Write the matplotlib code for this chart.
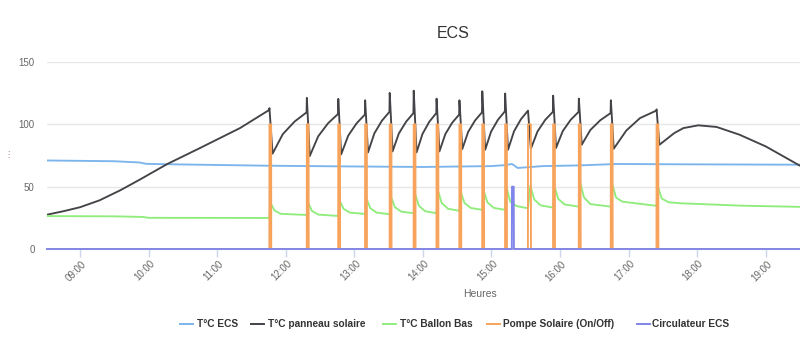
import matplotlib
matplotlib.use("Agg")
import matplotlib.pyplot as plt
import matplotlib.dates as mdates
from matplotlib.lines import Line2D
from matplotlib.transforms import ScaledTranslation
import pandas as pd

plt.rcParams['font.family'] = ['Liberation Sans', 'DejaVu Sans']

DAY = "2024-06-01 "

title = "ECS"
x_title = "Heures"
series_names = ["T°C ECS", "T°C panneau solaire", "T°C Ballon Bas",
                "Pompe Solaire (On/Off)", "Circulateur ECS"]
colors = ["#7cb5ec", "#434348", "#90ed7d", "#f7a35c", "#8085e9"]

ecs_t = ["08:31:00", "09:30:00", "09:52:00", "09:58:00", "10:30:00", "11:45:00",
         "13:00:00", "14:00:00", "15:00:00", "15:12:00", "15:18:00", "15:23:00",
         "15:45:00", "16:15:00", "16:50:00", "17:30:00", "19:30:00"]
ecs_v = [71.0, 70.4, 69.4, 68.3, 67.8, 66.8, 66.2, 65.8, 66.5, 67.3, 68.2, 65.0,
         66.5, 67.0, 68.2, 68.0, 67.6]

panel_t = ["08:31:00", "08:45:00", "09:00:00", "09:17:00", "09:35:00", "09:52:00",
           "10:16:00", "10:45:00", "11:20:00", "11:45:30", "11:45:45",
           "11:48:30", "11:57:25", "12:07:50", "12:18:15", "12:18:30",
           "12:21:00", "12:28:25", "12:37:05", "12:45:45", "12:46:00",
           "12:48:30", "12:54:40", "13:02:00", "13:09:15", "13:09:30",
           "13:12:00", "13:17:35", "13:24:10", "13:30:45", "13:31:00",
           "13:33:30", "13:39:00", "13:45:25", "13:51:45", "13:52:00",
           "13:54:30", "13:59:40", "14:05:40", "14:11:45", "14:12:00",
           "14:14:30", "14:19:40", "14:25:40", "14:31:45", "14:32:00",
           "14:34:30", "14:39:40", "14:45:40", "14:51:45", "14:52:00",
           "14:54:30", "14:59:40", "15:05:40", "15:11:45", "15:12:00",
           "15:14:30", "15:19:45", "15:25:50", "15:32:00",
           "15:34:30", "15:40:20", "15:47:00", "15:53:45", "15:54:00",
           "15:56:30", "16:02:25", "16:09:20", "16:16:15", "16:16:30",
           "16:19:00", "16:26:35", "16:35:25", "16:44:15", "16:44:30",
           "16:47:00", "16:58:00", "17:10:00", "17:24:15", "17:24:30",
           "17:27:00", "17:40:00", "17:48:00", "18:01:00", "18:17:00",
           "18:37:00", "19:00:00", "19:18:00", "19:30:00"]
panel_v = [27.5, 30.2, 33.5, 39.0, 47.0, 55.5,
           68.0, 81.0, 97.0, 111.5, 113.0,
           76.5, 92.1, 102.3, 109.6, 121.2,
           74.5, 90.4, 100.9, 108.3, 120.4,
           75.9, 90.9, 100.8, 107.8, 119.3,
           77.5, 92.8, 102.9, 110.0, 125.2,
           78.3, 92.7, 102.2, 109.0, 127.0,
           77.5, 92.3, 102.1, 109.0, 120.6,
           78.3, 92.2, 101.3, 107.8, 119.3,
           80.2, 94.0, 103.1, 109.6, 126.5,
           79.6, 94.1, 103.6, 110.4, 124.7,
           79.6, 94.4, 104.1, 111.0,
           80.4, 94.3, 103.5, 110.0, 123.0,
           81.0, 94.6, 103.6, 110.0, 120.6,
           83.6, 95.5, 103.4, 109.0, 119.3,
           80.4, 95.0, 105.0, 111.0, 112.0,
           83.6, 93.0, 97.0, 99.2, 97.9,
           91.7, 82.3, 73.0, 66.8]

tank_t = ["08:31:00", "09:30:00", "09:55:00", "10:00:00", "11:45:45",
          "11:46:45", "11:50:15", "11:55:45", "12:18:30",
          "12:19:30", "12:23:00", "12:28:30", "12:46:00",
          "12:47:00", "12:50:30", "12:56:00", "13:09:30",
          "13:10:30", "13:14:00", "13:19:30", "13:31:00",
          "13:32:00", "13:35:30", "13:41:00", "13:52:00",
          "13:53:00", "13:56:30", "14:02:00", "14:12:00",
          "14:13:00", "14:16:30", "14:22:00", "14:32:00",
          "14:33:00", "14:36:30", "14:42:00", "14:52:00",
          "14:53:00", "14:56:30", "15:02:00", "15:12:00",
          "15:13:00", "15:16:30", "15:22:00", "15:32:00",
          "15:34:00", "15:37:30", "15:43:00", "15:54:00",
          "15:55:00", "15:58:30", "16:04:00", "16:16:30",
          "16:17:30", "16:21:00", "16:26:30", "16:44:30",
          "16:45:30", "16:49:00", "16:54:30", "17:24:30",
          "17:25:30", "17:29:00", "17:35:00", "17:45:00", "18:37:00", "19:30:00"]
tank_v = [26.4, 26.2, 25.7, 25.0, 24.9,
          36.8, 30.8, 28.2, 27.3,
          37.2, 30.5, 27.6, 26.5,
          39.4, 32.3, 29.2, 28.1,
          40.8, 32.7, 29.2, 27.9,
          42.0, 33.6, 30.0, 28.7,
          44.8, 34.7, 30.3, 28.7,
          47.5, 36.9, 32.3, 30.6,
          46.1, 36.8, 32.9, 31.4,
          47.5, 37.4, 33.0, 31.4,
          50.1, 38.0, 34.4, 32.7,
          50.7, 39.7, 35.0, 33.2,
          50.7, 40.2, 35.7, 34.0,
          54.0, 41.4, 36.0, 34.0,
          52.8, 41.3, 38.0, 34.6,
          50.7, 40.5, 37.5, 36.7, 34.8, 33.8]

pump_t = ["08:31:00",
          "11:45:40", "11:45:45", "11:47:15", "11:47:20",
          "12:18:25", "12:18:30", "12:20:00", "12:20:05",
          "12:45:55", "12:46:00", "12:47:30", "12:47:35",
          "13:09:25", "13:09:30", "13:11:00", "13:11:05",
          "13:30:55", "13:31:00", "13:32:30", "13:32:35",
          "13:51:55", "13:52:00", "13:53:30", "13:53:35",
          "14:11:55", "14:12:00", "14:13:30", "14:13:35",
          "14:31:55", "14:32:00", "14:33:30", "14:33:35",
          "14:51:55", "14:52:00", "14:53:30", "14:53:35",
          "15:11:55", "15:12:00", "15:13:30", "15:13:35",
          "15:31:55", "15:32:00", "15:34:30", "15:34:35",
          "15:53:55", "15:54:00", "15:55:30", "15:55:35",
          "16:16:25", "16:16:30", "16:18:00", "16:18:05",
          "16:44:25", "16:44:30", "16:46:00", "16:46:05",
          "17:24:25", "17:24:30", "17:26:00", "17:26:05",
          "19:30:00"]
pump_v = [0] + [0, 100, 100, 0] * 15 + [0]

circ_t = ["08:31:00", "15:17:50", "15:18:00", "15:19:30", "15:19:40", "19:30:00"]
circ_v = [0, 0, 50, 50, 0, 0]

y_ticks = [0, 50, 100, 150]


def to_dt(ts):
    return pd.to_datetime([DAY + t for t in ts])


W, H = 800, 354
fig = plt.figure(figsize=(W / 100, H / 100), dpi=100)
ax = fig.add_axes([47 / W, 1 - 249 / H, (800 - 47) / W, (249 - 62) / H])

lw = 1.35
ax.plot(to_dt(ecs_t), ecs_v, color=colors[0], lw=lw, zorder=3)
ax.plot(to_dt(panel_t), panel_v, color=colors[1], lw=lw, zorder=3)
ax.plot(to_dt(tank_t), tank_v, color=colors[2], lw=lw, zorder=3)
ax.plot(to_dt(pump_t), pump_v, color=colors[3], lw=lw, zorder=4)
ax.plot(to_dt(circ_t), circ_v, color=colors[4], lw=lw, zorder=5, clip_on=False)

ax.set_xlim(pd.Timestamp(DAY + "08:31:07"), pd.Timestamp(DAY + "19:30:00"))
ax.set_ylim(0, 150)
ax.set_yticks(y_ticks)
ax.grid(axis='y', color='#e6e6e6', lw=1)
ax.set_axisbelow(True)
for s in ['top', 'right', 'left']:
    ax.spines[s].set_visible(False)
ax.spines['bottom'].set_color('#ccd6eb')

ax.xaxis.set_major_locator(mdates.HourLocator())
ax.xaxis.set_major_formatter(mdates.DateFormatter('%H:%M'))
ax.tick_params(axis='x', direction='out', length=6, width=1, color='#ccd6eb',
               labelsize=7, labelcolor='#666666', pad=1)
ax.tick_params(axis='y', length=0, labelsize=7, labelcolor='#666666', pad=9)
offset = ScaledTranslation(1 / 100, 0, fig.dpi_scale_trans)
for lab in ax.get_xticklabels():
    lab.set_rotation(45)
    lab.set_ha('right')
    lab.set_va('top')
    lab.set_rotation_mode('anchor')
    lab.set_transform(lab.get_transform() + offset)

fig.text(453 / W, 1 - 34 / H, title, ha='center', va='center', fontsize=11.5,
         color='#333333')
fig.text(480 / W, 1 - 294 / H, x_title, ha='center', va='center', fontsize=7.5,
         color='#666666')
fig.text(8 / W, 1 - 155 / H, "⋮", ha='center', va='center', fontsize=6,
         color='#a08070', family='DejaVu Sans')

leg_y = 1 - 324 / H
leg_items = [(180, 197), (251, 268), (383, 400), (487, 503), (637, 652)]
for (lx, tx), name, c in zip(leg_items, series_names, colors):
    fig.add_artist(Line2D([lx / W, (lx + 13) / W], [leg_y, leg_y],
                          transform=fig.transFigure, color=c, lw=1.4))
    fig.text(tx / W, leg_y, name, ha='left', va='center', fontsize=7.3,
             fontweight='bold', color='#333333')

fig.savefig("out.png", dpi=100)
